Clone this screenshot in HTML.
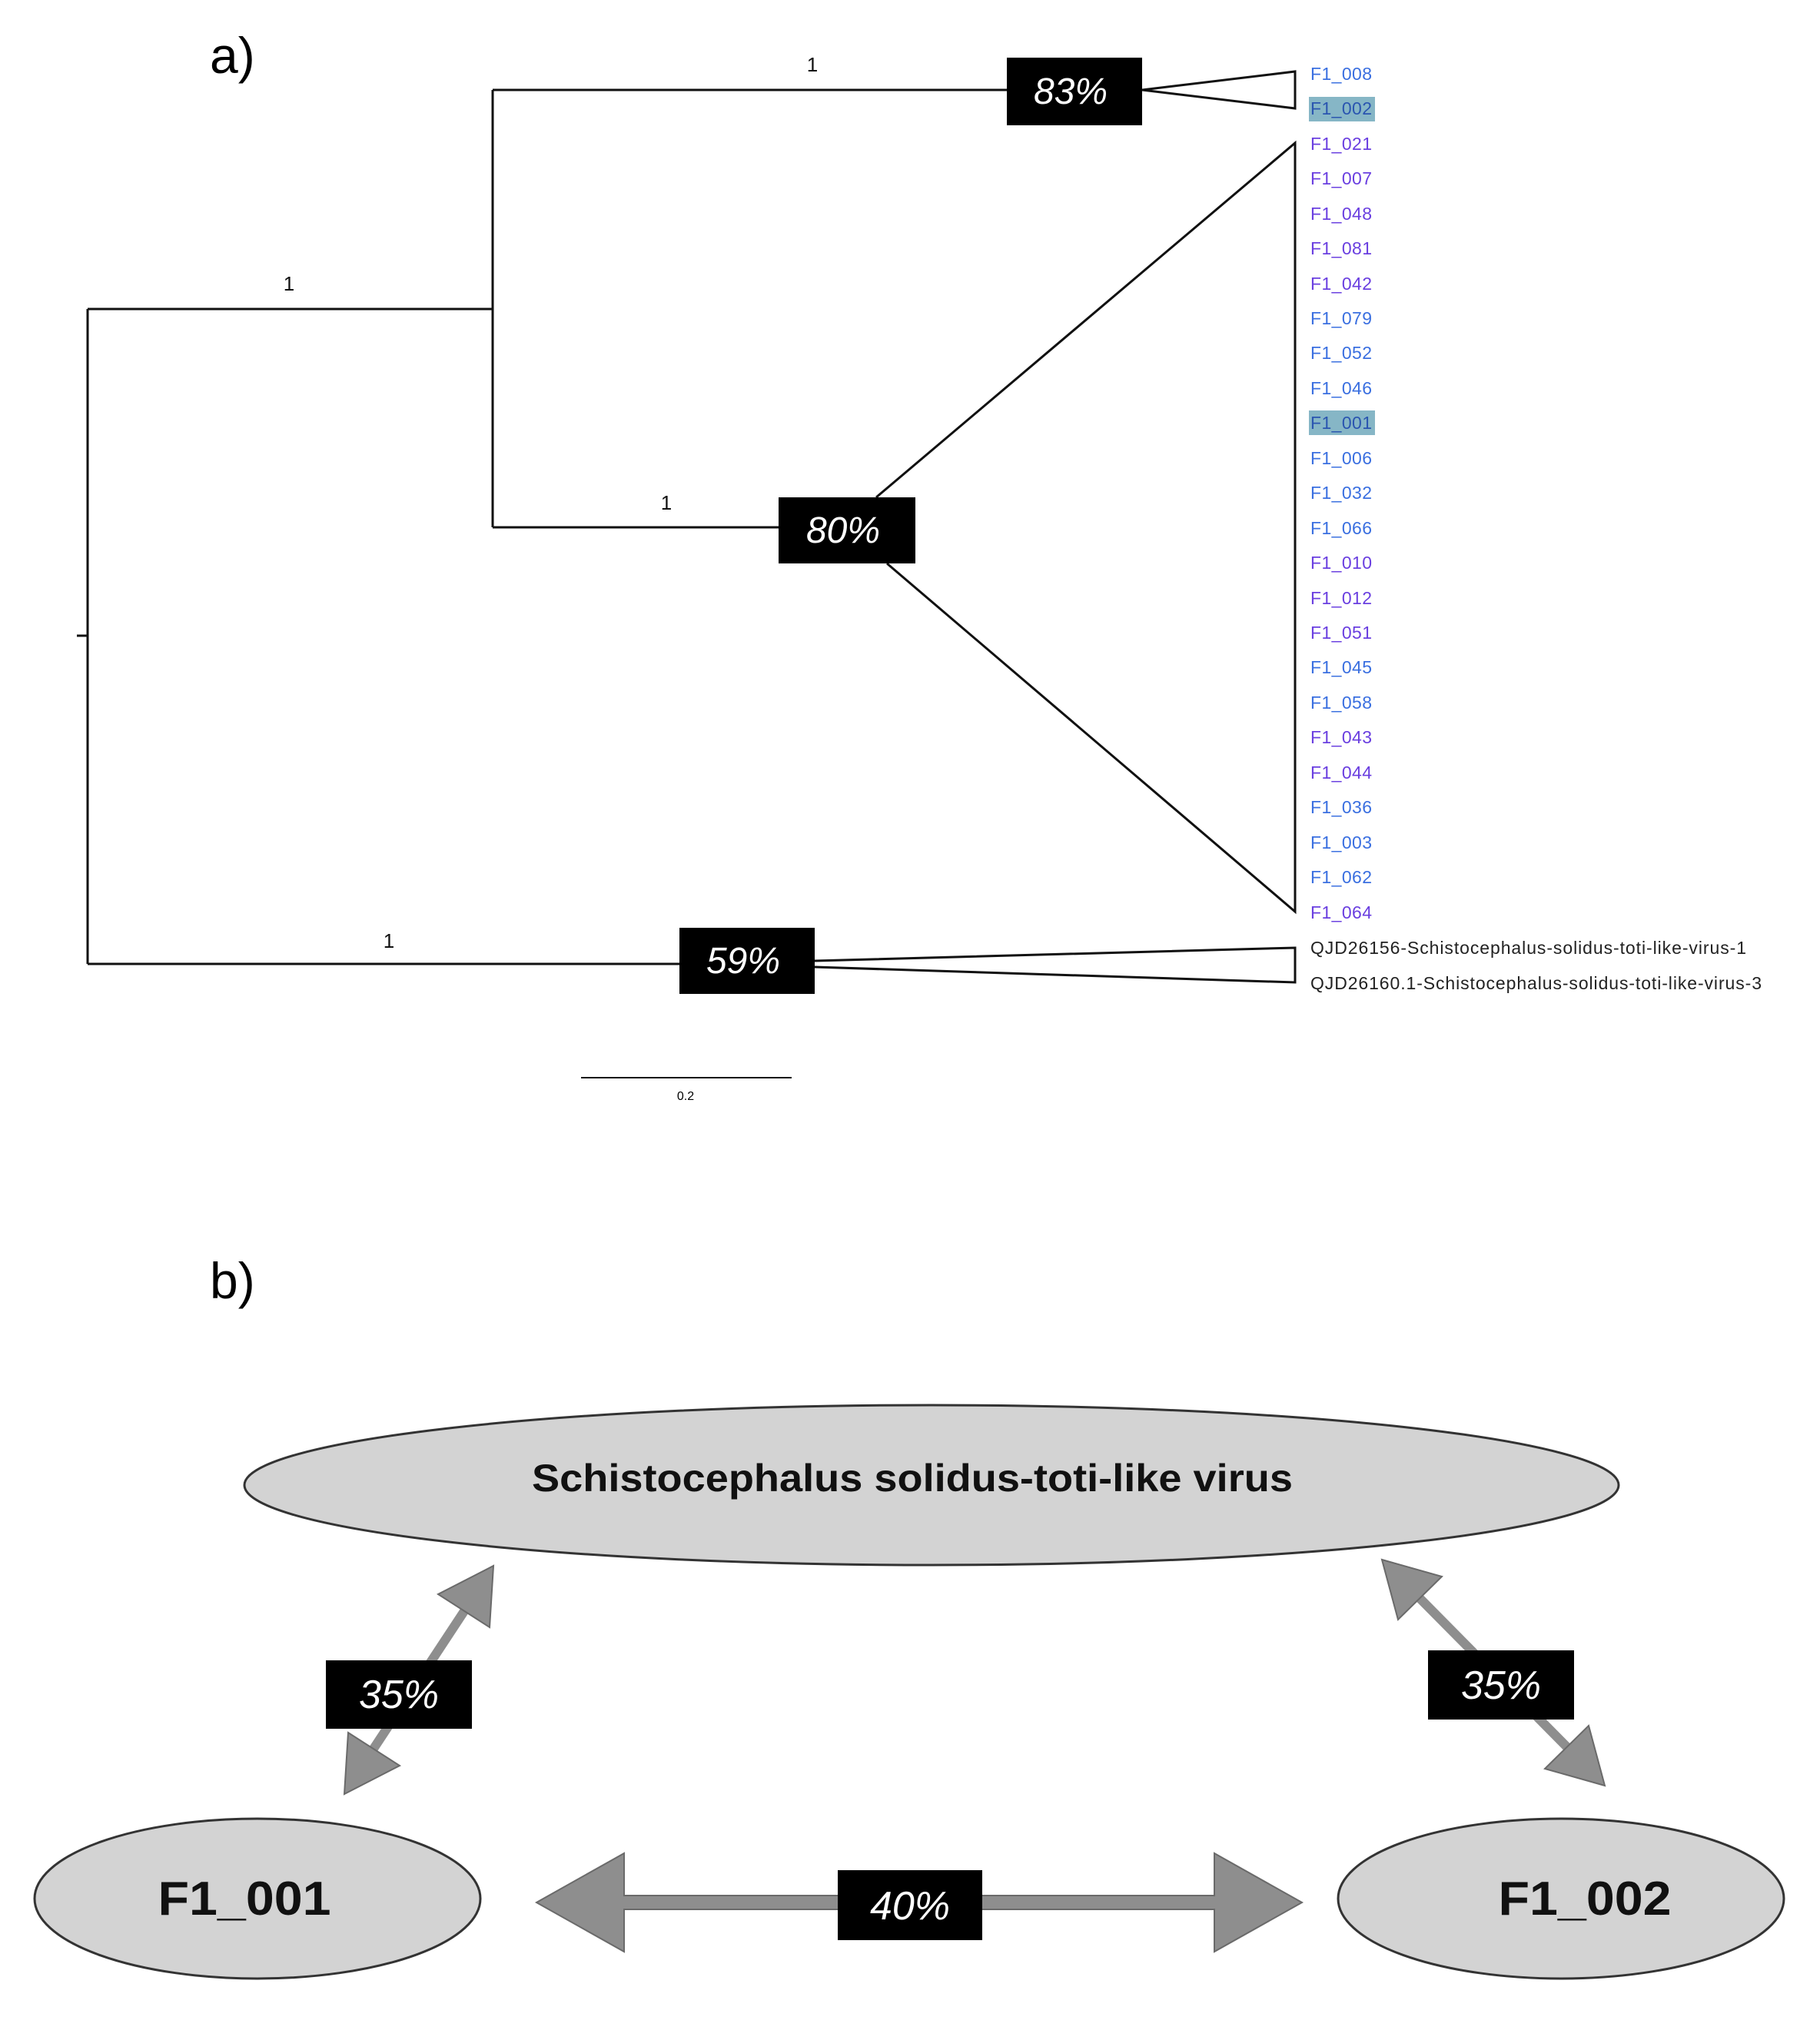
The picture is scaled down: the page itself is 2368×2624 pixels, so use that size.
<!DOCTYPE html>
<html><head><meta charset="utf-8"><style>html,body{margin:0;padding:0;background:#fff}svg{display:block}</style></head>
<body>
<svg width="2368" height="2624" viewBox="0 0 2368 2624" xmlns="http://www.w3.org/2000/svg" font-family="Liberation Sans, sans-serif">
<rect width="2368" height="2624" fill="#fff"/>
<text x="273" y="95" font-size="66">a)</text>
<g stroke="#111" stroke-width="3" fill="none">
<line x1="100" y1="827" x2="114" y2="827"/>
<line x1="114" y1="402" x2="114" y2="1254"/>
<line x1="114" y1="402" x2="641" y2="402"/>
<line x1="641" y1="117" x2="641" y2="686"/>
<line x1="641" y1="117" x2="1310" y2="117"/>
<line x1="641" y1="686" x2="1013" y2="686"/>
<line x1="114" y1="1254" x2="884" y2="1254"/>
<polyline points="1486,117 1685,93 1685,141 1486,117"/>
<polyline points="1140,647 1685,186 1685,1186 1154,733"/>
<polyline points="1060,1250 1685,1233 1685,1278 1060,1258"/>
<line x1="756" y1="1402" x2="1030" y2="1402" stroke-width="2"/>
</g>
<g font-size="26" text-anchor="middle" fill="#111">
<text x="376" y="378">1</text><text x="1057" y="93">1</text><text x="867" y="663">1</text><text x="506" y="1233">1</text>
</g>
<text x="892" y="1431" font-size="16" text-anchor="middle">0.2</text>
<g fill="#000"><rect x="1310" y="75" width="176" height="88"/><rect x="1013" y="647" width="178" height="86"/><rect x="884" y="1207" width="176" height="86"/></g>
<g font-size="48" font-style="italic" fill="#fff" text-anchor="middle">
<text x="1393" y="135">83%</text><text x="1097" y="706">80%</text><text x="967" y="1266">59%</text>
</g>
<rect x="1703" y="126" width="86" height="32" fill="#86b6c6"/>
<rect x="1703" y="534" width="86" height="32" fill="#86b6c6"/>
<g font-size="23">
<text x="1705" y="104" fill="#3a6fe0" textLength="80">F1_008</text>
<text x="1705" y="149" fill="#2a55b0" textLength="80">F1_002</text>
<text x="1705" y="195" fill="#6a3fe0" textLength="80">F1_021</text>
<text x="1705" y="240" fill="#6a3fe0" textLength="80">F1_007</text>
<text x="1705" y="286" fill="#6a3fe0" textLength="80">F1_048</text>
<text x="1705" y="331" fill="#6a3fe0" textLength="80">F1_081</text>
<text x="1705" y="377" fill="#6a3fe0" textLength="80">F1_042</text>
<text x="1705" y="422" fill="#3a6fe0" textLength="80">F1_079</text>
<text x="1705" y="467" fill="#3a6fe0" textLength="80">F1_052</text>
<text x="1705" y="513" fill="#3a6fe0" textLength="80">F1_046</text>
<text x="1705" y="558" fill="#2a55b0" textLength="80">F1_001</text>
<text x="1705" y="604" fill="#3a6fe0" textLength="80">F1_006</text>
<text x="1705" y="649" fill="#3a6fe0" textLength="80">F1_032</text>
<text x="1705" y="695" fill="#3a6fe0" textLength="80">F1_066</text>
<text x="1705" y="740" fill="#6a3fe0" textLength="80">F1_010</text>
<text x="1705" y="786" fill="#6a3fe0" textLength="80">F1_012</text>
<text x="1705" y="831" fill="#6a3fe0" textLength="80">F1_051</text>
<text x="1705" y="876" fill="#3a6fe0" textLength="80">F1_045</text>
<text x="1705" y="922" fill="#3a6fe0" textLength="80">F1_058</text>
<text x="1705" y="967" fill="#6a3fe0" textLength="80">F1_043</text>
<text x="1705" y="1013" fill="#6a3fe0" textLength="80">F1_044</text>
<text x="1705" y="1058" fill="#3a6fe0" textLength="80">F1_036</text>
<text x="1705" y="1104" fill="#3a6fe0" textLength="80">F1_003</text>
<text x="1705" y="1149" fill="#3a6fe0" textLength="80">F1_062</text>
<text x="1705" y="1195" fill="#6a3fe0" textLength="80">F1_064</text>
<text x="1705" y="1241" fill="#222" textLength="567">QJD26156-Schistocephalus-solidus-toti-like-virus-1</text>
<text x="1705" y="1287" fill="#222" textLength="587">QJD26160.1-Schistocephalus-solidus-toti-like-virus-3</text>
</g>

<text x="273" y="1689" font-size="66">b)</text>
<g fill="#d3d3d3" stroke="#333" stroke-width="3">
<ellipse cx="1212" cy="1932" rx="894" ry="104"/>
<ellipse cx="335" cy="2470" rx="290" ry="104"/>
<ellipse cx="2031" cy="2470" rx="290" ry="104"/>
</g>
<g font-weight="bold" fill="#111" text-anchor="middle">
<text x="1187" y="1940" font-size="50" textLength="990" lengthAdjust="spacingAndGlyphs">Schistocephalus solidus-toti-like virus</text>
<text x="318" y="2491" font-size="62" textLength="225" lengthAdjust="spacingAndGlyphs">F1_001</text>
<text x="2062" y="2491" font-size="62" textLength="225" lengthAdjust="spacingAndGlyphs">F1_002</text>
</g>
<g fill="#8e8e8e" stroke="#6a6a6a" stroke-width="2">
<polygon points="698,2475 812,2411 812,2466 1580,2466 1580,2411 1694,2475 1580,2539 1580,2484 812,2484 812,2539"/>
<line x1="486" y1="2275" x2="604" y2="2096" stroke="#8e8e8e" stroke-width="12"/>
<polygon points="642,2037 637,2117 570,2074"/>
<polygon points="448,2334 520,2297 453,2254"/>
<line x1="1847" y1="2079" x2="2039" y2="2273" stroke="#8e8e8e" stroke-width="12"/>
<polygon points="1798,2029 1819,2107 1876,2051"/>
<polygon points="2088,2323 2010,2301 2067,2245"/>
</g>
<g fill="#000"><rect x="424" y="2160" width="190" height="89"/><rect x="1858" y="2147" width="190" height="90"/><rect x="1090" y="2433" width="188" height="91"/></g>
<g font-size="52" font-style="italic" fill="#fff" text-anchor="middle">
<text x="519" y="2222">35%</text><text x="1953" y="2210">35%</text><text x="1184" y="2497">40%</text>
</g>
</svg>
</body></html>
